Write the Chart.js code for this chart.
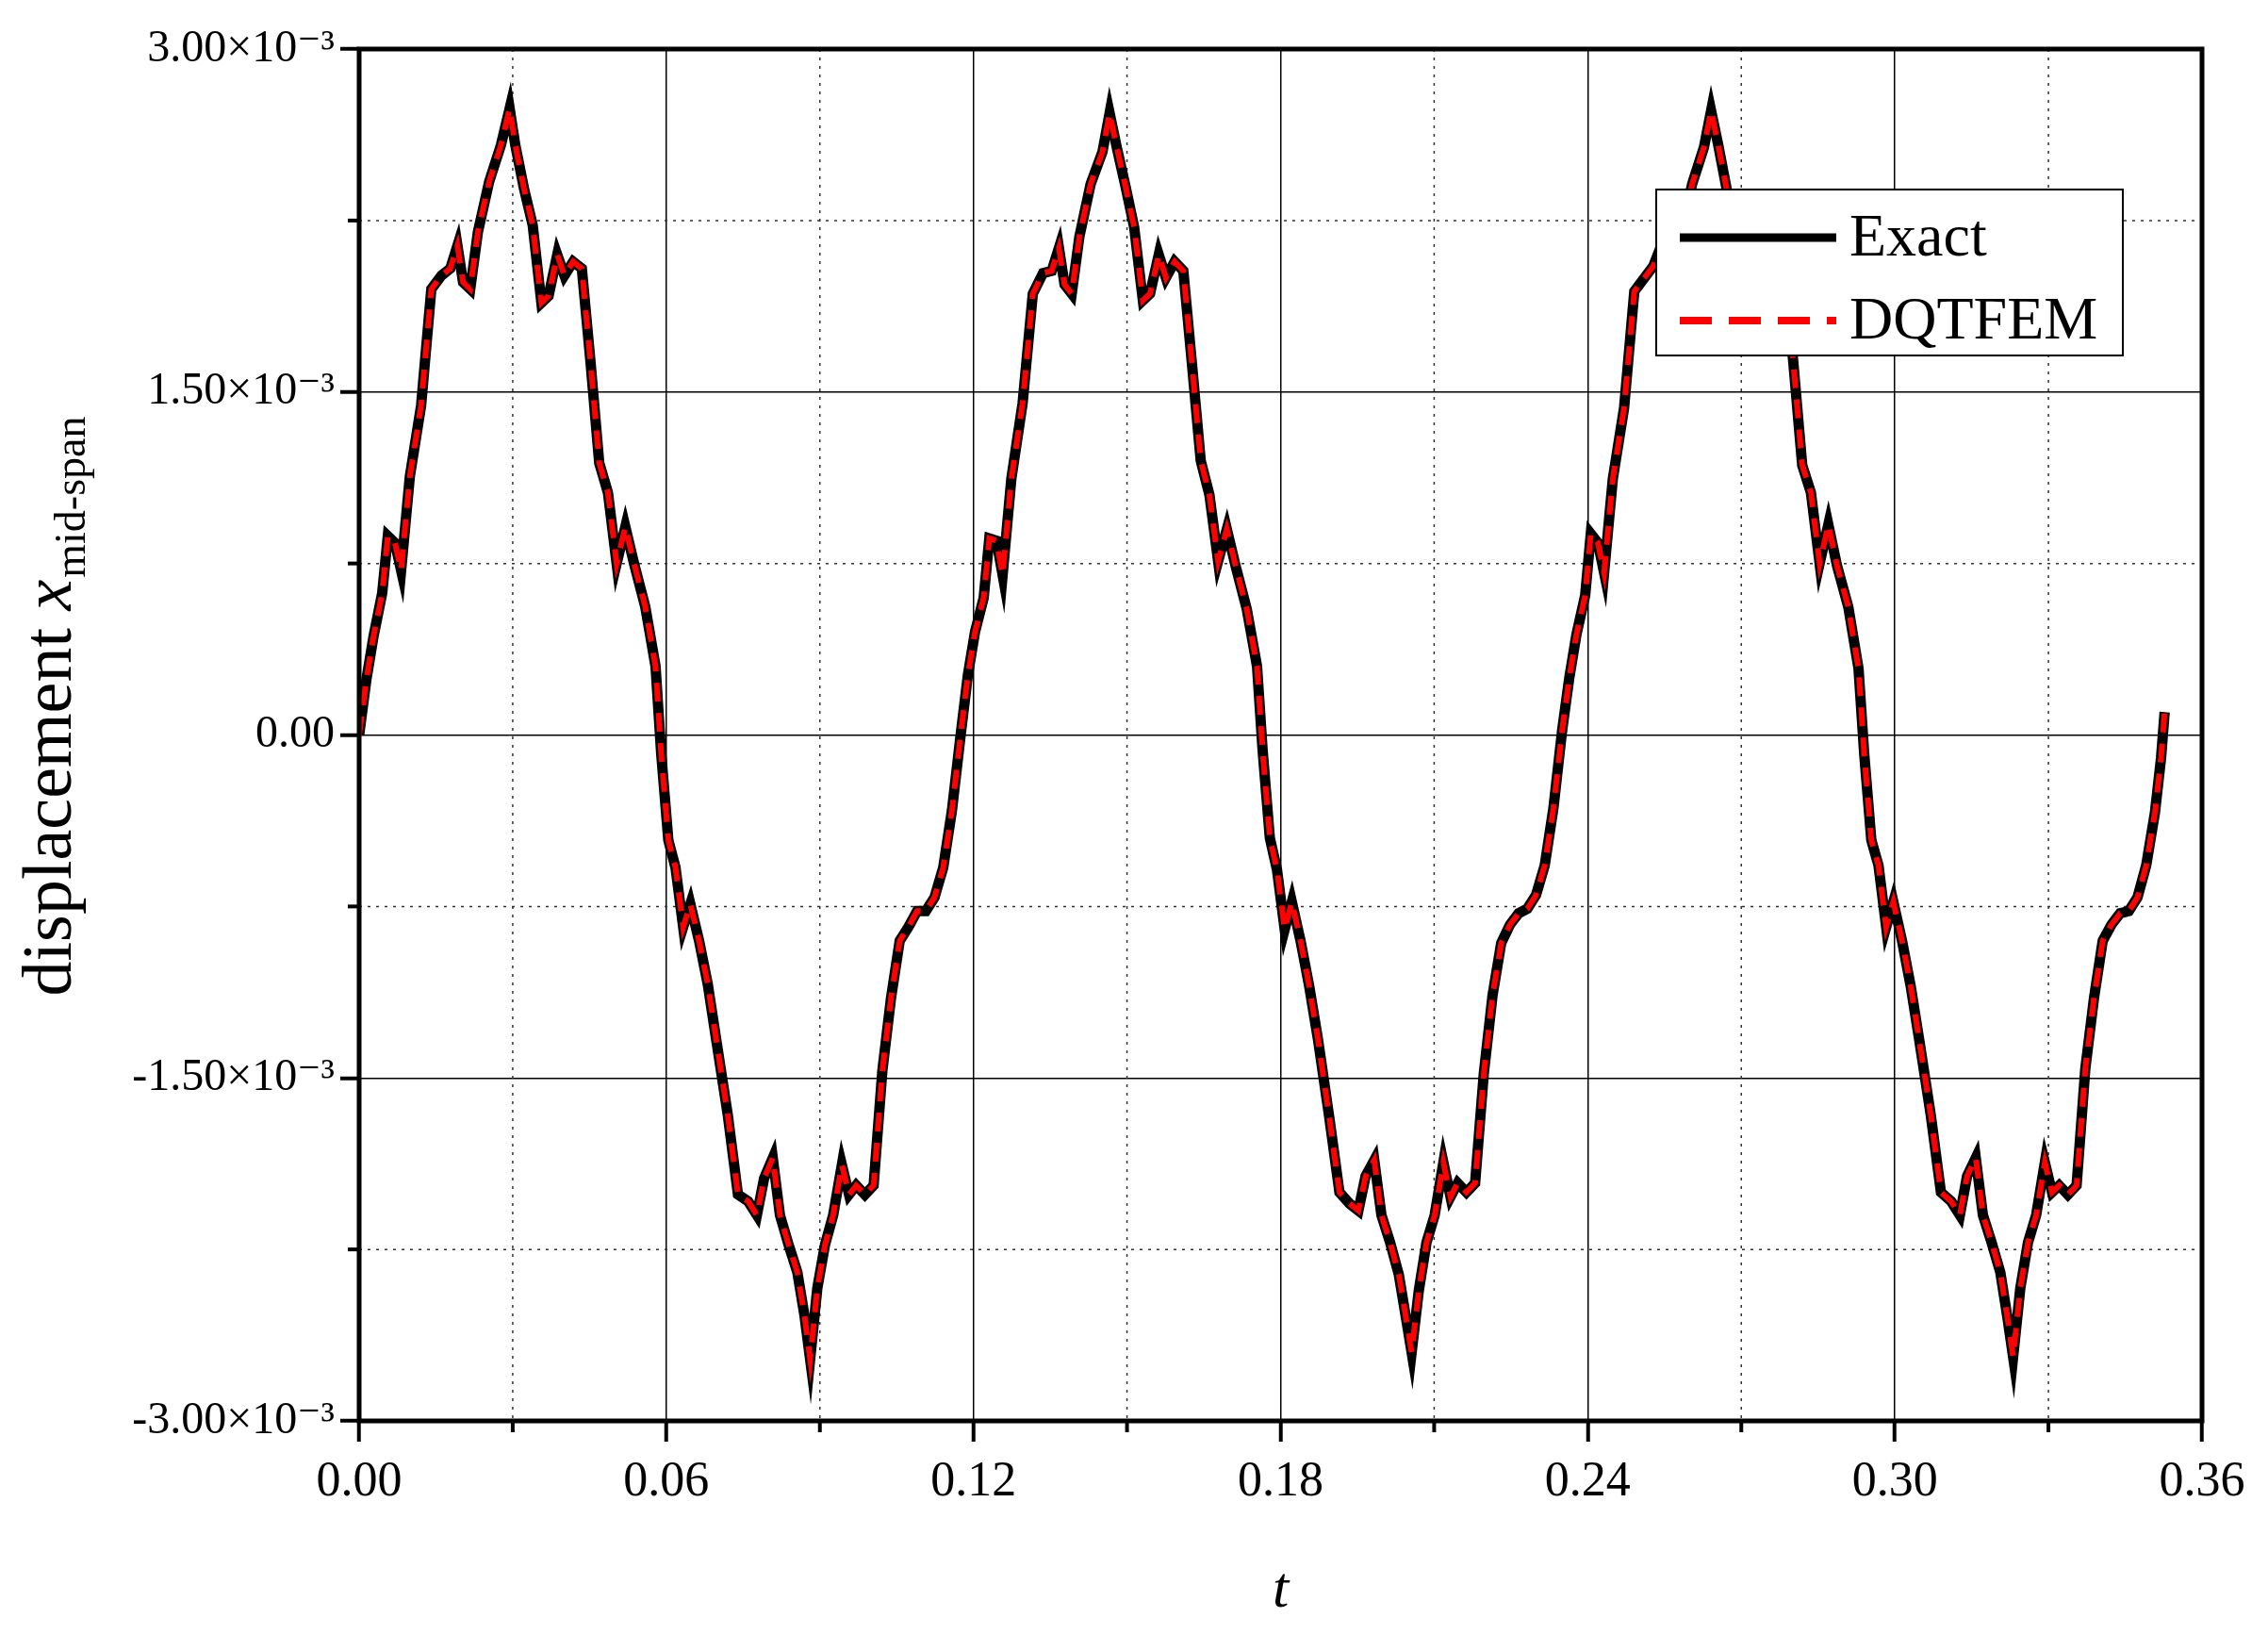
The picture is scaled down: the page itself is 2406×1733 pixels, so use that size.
<!DOCTYPE html>
<html>
<head>
<meta charset="utf-8">
<script src="https://cdn.jsdelivr.net/npm/chart.js@4.4.1/dist/chart.umd.min.js"></script>
<style>
  html, body { margin: 0; padding: 0; background: #fff; }
  #wrap { width: 2406px; height: 1733px; }
</style>
</head>
<body>
<div id="wrap"><canvas id="c1"></canvas></div>
<script>
// time t
var tValues = [
  0, .0014, .0028, .0045, .0056, .007, .0082, .0099, .0121, .0141, .0161, .0178, .0192, .0203, .0217, .0232, .0254, .0277, .0294, .0305, .0322, .0339, .0356, .037, .0387, .0401, .0418, .0435, .0452, .0469, .0486, .0503, .052, .0537, .0559, .0579, .059, .0604, .0618, .0633, .0647, .0664, .0681, .0698, .072, .074, .076, .0777, .0791, .0808, .0822, .0839, .0856, .087, .0881, .0895, .091, .0926, .0943, .0957, .0971, .0988, .1005, .1022, .1039, .1056, .1073, .109, .1107, .1124, .1141, .1158,
  .1175, .1189, .1203, .122, .1231, .1245, .1257, .1274, .1296, .1316, .1336, .1353, .1367, .1378, .1392, .1407, .1429, .1452, .1466, .148, .1497, .1514, .1531, .1545, .1562, .1576, .1593, .161, .1627, .1644, .1661, .1678, .1695, .1712, .1734, .1754, .1765, .1779, .1793, .1808, .1822, .1839, .1856, .1873, .1895, .1915, .1935, .1952, .1966, .1983, .1997, .2014, .2031, .2045, .2056, .207, .2085, .2101, .2118, .2132, .2146, .2163, .218, .2197, .2214, .2231, .2248, .2265, .2282, .2299, .2316, .2333,
  .235, .2364, .2378, .2395, .2406, .242, .2432, .2449, .2471, .2491, .2511, .2528, .2542, .2553, .2567, .2582, .2604, .2627, .2641, .2655, .2672, .2689, .2706, .272, .2737, .2751, .2768, .2785, .2802, .2819, .2836, .2853, .287, .2887, .2909, .2929, .294, .2954, .2968, .2983, .2997, .3014, .3031, .3048, .307, .309, .311, .3127, .3141, .3158, .3172, .3189, .3206, .322, .3231, .3245, .326, .3276, .3293, .3307, .3321, .3338, .3355, .3372, .3389, .3406, .3423, .344, .3457, .3474, .3491, .3508, .352, .3527
];
// displacement, units of 1e-3
var exactValues = [
  0, .24, .43, .62, .87, .84, .72, 1.13, 1.44, 1.95, 2.01, 2.04, 2.14, 1.98, 1.95, 2.2, 2.42, 2.58, 2.74, 2.58, 2.39, 2.23, 1.89, 1.92, 2.1, 2.01, 2.07, 2.04, 1.63, 1.19, 1.06, .75, .91, .75, .56, .30, -.08, -.46, -.58, -.84, -.74, -.9, -1.09, -1.34, -1.66, -2.01, -2.04, -2.1, -1.94, -1.85, -2.1, -2.23, -2.35, -2.54, -2.73, -2.42, -2.23, -2.1, -1.88, -2.01, -1.97, -2.01, -1.97, -1.47, -1.15, -.9, -.84, -.77, -.77, -.71, -.58, -.33,
  0, .26, .45, .6, .86, .85, .7, 1.12, 1.45, 1.93, 2.02, 2.03, 2.13, 1.97, 1.93, 2.18, 2.41, 2.55, 2.72, 2.57, 2.4, 2.22, 1.9, 1.93, 2.1, 2.0, 2.07, 2.03, 1.62, 1.2, 1.05, .76, .9, .74, .55, .3, -.07, -.45, -.59, -.85, -.73, -.9, -1.1, -1.33, -1.67, -2.0, -2.05, -2.08, -1.93, -1.86, -2.1, -2.22, -2.36, -2.55, -2.7, -2.43, -2.22, -2.1, -1.87, -2.02, -1.96, -2.0, -1.96, -1.48, -1.14, -.91, -.83, -.78, -.76, -.7, -.57, -.32,
  .02, .25, .44, .61, .88, .84, .71, 1.12, 1.43, 1.94, 2.0, 2.05, 2.13, 1.98, 1.94, 2.19, 2.41, 2.57, 2.73, 2.58, 2.38, 2.23, 1.88, 1.92, 2.09, 2.0, 2.06, 2.04, 1.62, 1.18, 1.06, .75, .92, .74, .56, .29, -.08, -.46, -.57, -.84, -.73, -.9, -1.1, -1.34, -1.66, -2.0, -2.04, -2.1, -1.93, -1.85, -2.1, -2.22, -2.35, -2.55, -2.72, -2.42, -2.22, -2.1, -1.87, -2.0, -1.97, -2.01, -1.97, -1.46, -1.15, -.9, -.83, -.78, -.77, -.71, -.57, -.34, -.1, .1
];
var dqtfemValues = exactValues; // overlaps the exact solution
var xTicks = [0, 0.06, 0.12, 0.18, 0.24, 0.30, 0.36];
var yTickLabels = ['-3.00\u00d710\u207b\u00b3', '-1.50\u00d710\u207b\u00b3', '0.00', '1.50\u00d710\u207b\u00b3', '3.00\u00d710\u207b\u00b3'];
var yTicks = [-3e-3, -1.5e-3, 0, 1.5e-3, 3e-3];
var seriesNames = ['Exact', 'DQTFEM'];

var FONT = '"Liberation Serif", "DejaVu Serif", serif';

function pts(vals) {
  return tValues.map(function (t, i) { return { x: t, y: vals[i] * 1e-3 }; });
}

var frame = {
  id: 'frame',
  beforeDatasetsDraw: function (chart) {
    var c = chart.ctx, a = chart.chartArea;
    var xs = chart.scales.x, ys = chart.scales.y;
    c.save();
    c.strokeStyle = '#333';
    c.lineWidth = 1.5;
    c.setLineDash([3, 6]);
    [0.03, 0.09, 0.15, 0.21, 0.27, 0.33].forEach(function (v) {
      var px = xs.getPixelForValue(v);
      c.beginPath(); c.moveTo(px, a.top); c.lineTo(px, a.bottom); c.stroke();
    });
    [-2.25e-3, -0.75e-3, 0.75e-3, 2.25e-3].forEach(function (v) {
      var py = ys.getPixelForValue(v);
      c.beginPath(); c.moveTo(a.left, py); c.lineTo(a.right, py); c.stroke();
    });
    c.restore();
  },
  afterDraw: function (chart) {
    var c = chart.ctx, a = chart.chartArea;
    var xs = chart.scales.x, ys = chart.scales.y;
    c.save();
    c.strokeStyle = '#000';
    c.lineWidth = 5;
    c.strokeRect(a.left, a.top, a.right - a.left, a.bottom - a.top);
    // minor ticks
    c.lineWidth = 4;
    [0.03, 0.09, 0.15, 0.21, 0.27, 0.33].forEach(function (v) {
      var px = xs.getPixelForValue(v);
      c.beginPath(); c.moveTo(px, a.bottom); c.lineTo(px, a.bottom + 12); c.stroke();
    });
    [-2.25e-3, -0.75e-3, 0.75e-3, 2.25e-3].forEach(function (v) {
      var py = ys.getPixelForValue(v);
      c.beginPath(); c.moveTo(a.left, py); c.lineTo(a.left - 12, py); c.stroke();
    });

    // axis titles
    c.fillStyle = '#000';
    c.font = 'italic 62px ' + FONT;
    c.textAlign = 'center';
    c.textBaseline = 'middle';
    c.fillText('t', (a.left + a.right) / 2, 1688);

    c.save();
    c.translate(56, 750);
    c.rotate(-Math.PI / 2);
    var p1 = 'displacement ', p2 = 'x', p3 = 'mid-span';
    c.font = '74px ' + FONT;
    var w1 = c.measureText(p1).width;
    c.font = 'italic 74px ' + FONT;
    var w2 = c.measureText(p2).width;
    c.font = '46px ' + FONT;
    var w3 = c.measureText(p3).width;
    var x0 = -(w1 + w2 + w3) / 2;
    c.textAlign = 'left';
    c.font = '74px ' + FONT;
    c.fillText(p1, x0, 0);
    c.font = 'italic 74px ' + FONT;
    c.fillText(p2, x0 + w1, 0);
    c.font = '46px ' + FONT;
    c.fillText(p3, x0 + w1 + w2 + 2, 22);
    c.restore();

    // legend
    var lx = 1757, ly = 201, lw = 495, lh = 176;
    c.fillStyle = '#fff';
    c.fillRect(lx, ly, lw, lh);
    c.lineWidth = 2;
    c.strokeStyle = '#000';
    c.strokeRect(lx, ly, lw, lh);
    c.lineWidth = 9;
    c.beginPath(); c.moveTo(1782, 252); c.lineTo(1948, 252); c.stroke();
    c.strokeStyle = '#ff0000';
    c.lineWidth = 8;
    c.setLineDash([34, 18]);
    c.beginPath(); c.moveTo(1782, 340); c.lineTo(1948, 340); c.stroke();
    c.setLineDash([]);
    c.fillStyle = '#000';
    c.font = '64px ' + FONT;
    c.textAlign = 'left';
    c.fillText(seriesNames[0], 1962, 254);
    c.fillText(seriesNames[1], 1962, 342);
    c.restore();
  }
};

new Chart(document.getElementById('c1'), {
  type: 'line',
  data: {
    datasets: [
      {
        label: seriesNames[0],
        data: pts(exactValues),
        borderColor: '#000',
        borderWidth: 11,
        pointRadius: 0,
        tension: 0,
        order: 2
      },
      {
        label: seriesNames[1],
        data: pts(dqtfemValues),
        borderColor: '#ff0000',
        borderWidth: 6,
        borderDash: [20, 12],
        pointRadius: 0,
        tension: 0,
        order: 1
      }
    ]
  },
  options: {
    responsive: true,
    maintainAspectRatio: false,
    animation: false,
    layout: { padding: { left: 0, top: 52, right: 70, bottom: 0 } },
    plugins: { legend: { display: false }, tooltip: { enabled: false } },
    scales: {
      x: {
        type: 'linear',
        min: 0, max: 0.36,
        afterBuildTicks: function (s) { s.ticks = xTicks.map(function (v) { return { value: v }; }); },
        afterFit: function (s) { s.height = 226; },
        ticks: {
          font: { family: FONT, size: 52 },
          color: '#000',
          padding: 12,
          callback: function (v) { return v.toFixed(2); }
        },
        grid: { color: '#000', lineWidth: 1.5, tickLength: 22, tickColor: '#000', tickWidth: 4 },
        border: { display: false }
      },
      y: {
        min: -3e-3, max: 3e-3,
        afterBuildTicks: function (s) { s.ticks = yTicks.map(function (v) { return { value: v }; }); },
        afterFit: function (s) { s.width = 381; },
        ticks: {
          font: { family: FONT, size: 48 },
          color: '#000',
          padding: 6,
          callback: function (v) {
            for (var i = 0; i < yTicks.length; i++) if (Math.abs(yTicks[i] - v) < 1e-9) return yTickLabels[i];
            return '';
          }
        },
        grid: { color: '#000', lineWidth: 1.5, tickLength: 20, tickColor: '#000', tickWidth: 4 },
        border: { display: false }
      }
    }
  },
  plugins: [frame]
});
</script>
</body>
</html>
